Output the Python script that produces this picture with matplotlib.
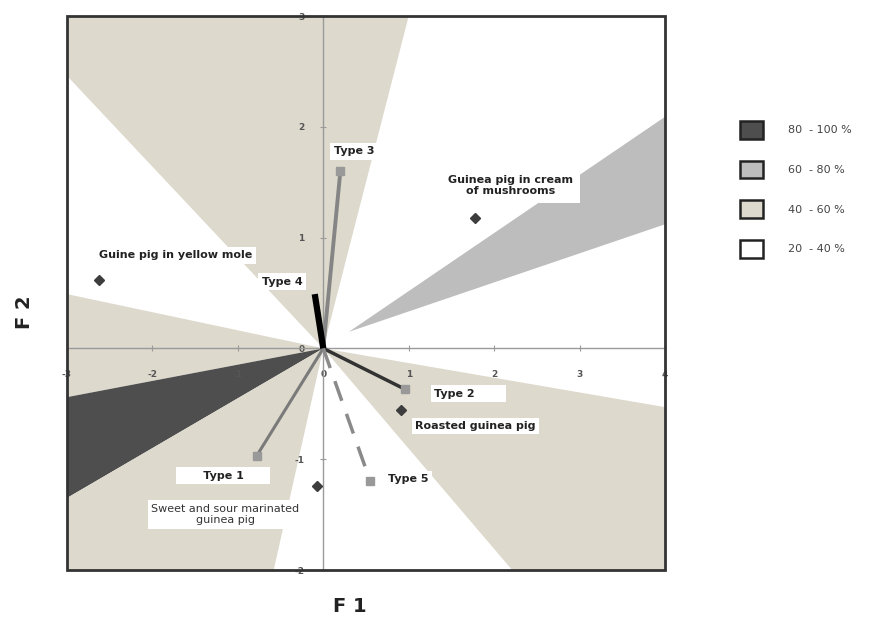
import numpy as np
import matplotlib
matplotlib.use("Agg")
from matplotlib import pyplot as plt
from matplotlib.patches import Patch, Rectangle

plt.rcParams["axes.unicode_minus"] = False

# Preference zones: polygon vertices (F1, F2), rays leave from the origin
zone_beige_top = [(0, 0), (1.0, 3), (-3, 3), (-3, 2.46)]
zone_beige_left = [(0, 0), (-3, 0.49), (-3, -0.44)]
zone_dark = [(0, 0), (-3, -0.44), (-3, -1.35)]
zone_beige_low = [(0, 0), (-3, -1.35), (-3, -2), (-0.58, -2)]
zone_beige_right = [(0, 0), (2.21, -2), (4, -2), (4, -0.53)]
zone_grey = [(0.3, 0.15), (4, 2.09), (4, 1.12)]

zone_labels = ["80  - 100 %", "60  - 80 %", "40  - 60 %", "20  - 40 %"]
zone_colors = ["#4e4e4e", "#bdbdbd", "#ddd9cc", "#ffffff"]

# Consumer types (vectors)
type_names = ["Type 1", "Type 2", "Type 3", "Type 4", "Type 5"]
type_x = [-0.78, 0.96, 0.20, -0.10, 0.55]
type_y = [-0.97, -0.37, 1.60, 0.49, -1.20]

# Products
product_names = ["Sweet and sour marinated\nguinea pig", "Roasted guinea pig",
                 "Guinea pig in cream\nof mushrooms", "Guine pig in yellow mole"]
product_x = [-0.07, 0.91, 1.78, -2.63]
product_y = [-1.24, -0.56, 1.18, 0.62]

xticks = [-3, -2, -1, 0, 1, 2, 3, 4]
yticks = [-2, -1, 0, 1, 2, 3]

fig = plt.figure(figsize=(8.83, 6.23), dpi=100)
ax = fig.add_axes([67 / 883, 53 / 623, 598 / 883, 554 / 623])
ax.set_xlim(-3, 4)
ax.set_ylim(-2, 3)

beige, dark, grey = zone_colors[2], zone_colors[0], zone_colors[1]
for poly, col in [(zone_beige_top, beige), (zone_beige_left, beige), (zone_dark, dark),
                  (zone_beige_low, beige), (zone_beige_right, beige), (zone_grey, grey)]:
    xs, ys = zip(*poly)
    ax.fill(xs, ys, color=col, lw=0, zorder=1)

# axes crossing at the origin, frame around the plot
ax.spines["left"].set_position(("data", 0))
ax.spines["bottom"].set_position(("data", 0))
for s in ["left", "bottom"]:
    ax.spines[s].set_color("#9a9a9a")
    ax.spines[s].set_linewidth(1.0)
ax.spines["top"].set_visible(False)
ax.spines["right"].set_visible(False)
ax.add_patch(Rectangle((0, 0), 1, 1, transform=ax.transAxes, fill=False,
                       edgecolor="#333333", lw=2.0, zorder=5, clip_on=False))

ax.set_xticks(xticks)
ax.set_yticks(yticks)
ax.tick_params(direction="inout", length=5, width=0.8, color="#9a9a9a",
               labelsize=6.5, labelcolor="#555555")
ax.tick_params(axis="x", pad=13)
ax.tick_params(axis="y", pad=11)
for lab in ax.get_xticklabels() + ax.get_yticklabels():
    lab.set_fontweight("bold")

# vectors for consumer types
styles = {
    "Type 1": dict(color="#7a7a7a", lw=2.2, ls="-"),
    "Type 2": dict(color="#333333", lw=2.5, ls="-"),
    "Type 3": dict(color="#858585", lw=2.8, ls="-"),
    "Type 4": dict(color="#000000", lw=4.5, ls="-"),
    "Type 5": dict(color="#8a8a8a", lw=2.5, ls=(0, (6, 4))),
}
for name, x, y in zip(type_names, type_x, type_y):
    ax.plot([0, x], [0, y], zorder=3, solid_capstyle="butt", **styles[name])
    if name != "Type 4":
        ax.plot(x, y, marker="s", ms=6, color="#999999", zorder=3)

ax.plot(product_x, product_y, "D", ms=5, color="#3d3d3d", zorder=3)

box = dict(facecolor="white", edgecolor="none", pad=2.5)
bold = dict(fontsize=8, fontweight="bold", color="#222222", zorder=4, bbox=box)
ax.text(0.12, 1.78, "Type 3", ha="left", va="center", **bold)
ax.text(-0.48, 0.60, "Type 4", ha="center", va="center", **bold)
ax.text(1.30, -0.41, "Type 2       ", ha="left", va="center", **bold)
ax.text(0.99, -1.18, "Type 5", ha="center", va="center", **bold)
ax.text(-1.17, -1.15, "      Type 1      ", ha="center", va="center", **bold)
ax.text(2.19, 1.47, product_names[2], ha="center", va="center", linespacing=1.1,
        fontsize=8, fontweight="bold", color="#222222", zorder=4,
        bbox=dict(facecolor="white", edgecolor="none", pad=5))
ax.text(-1.73, 0.84, product_names[3], ha="center", va="center", **bold)
ax.text(1.78, -0.70, product_names[1], ha="center", va="center", **bold)
ax.text(-1.15, -1.50, product_names[0], ha="center", va="center", fontsize=8,
        color="#333333", linespacing=1.2, zorder=4, bbox=box)

fig.text(350 / 883, 1 - 607 / 623, "F 1", ha="center", va="center",
         fontsize=14, fontweight="bold", color="#222222")
fig.text(25 / 883, 1 - 312 / 623, "F 2", ha="center", va="center", rotation=90,
         fontsize=14, fontweight="bold", color="#222222")

handles = [Patch(facecolor=c, edgecolor="#222222", lw=1.8) for c in zone_colors]
fig.legend(handles, zone_labels, loc="upper left", bbox_to_anchor=(730 / 883, 1 - 111 / 623),
           frameon=False, fontsize=8, labelcolor="#444444", handlelength=2.1,
           handleheight=2.1, labelspacing=1.95, handletextpad=2.2)

fig.savefig("out.png", dpi=100)
